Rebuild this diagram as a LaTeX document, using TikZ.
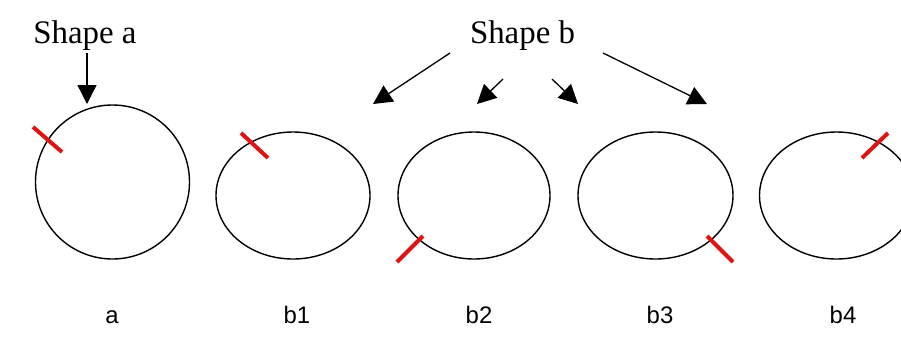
\documentclass[tikz,border=0pt]{standalone}
\usepackage{fontspec}
\setmainfont{Liberation Serif}
\newfontfamily\lblfont{Liberation Sans}
\usetikzlibrary{shapes.geometric,arrows.meta}
\begin{document}
\begin{tikzpicture}[x=1bp,y=-1bp,
  ring/.style={draw=black,line width=1.4bp,ellipse,inner sep=0pt,minimum width=#1},
  tick/.style={draw={rgb,255:red,222;green,20;blue,20},line width=4bp},
  pointer/.style={draw=black,line width=1.3bp,-{Triangle[length=19bp,width=19bp]}},
  title/.style={font=\fontsize{33}{36}\selectfont,anchor=base,inner sep=0pt},
  lbl/.style={font=\lblfont\fontsize{24}{26}\selectfont,anchor=base,inner sep=0pt}]
\useasboundingbox (0,0) rectangle (901,360);
\begin{scope}
\clip (0,0) rectangle (901,360);
% circles
\node[ring=154bp,minimum height=154bp] (ca) at (112.5,182) {};
\node[ring=154bp,minimum height=127bp] (cb1) at (293,195.5) {};
\node[ring=152bp,minimum height=127bp] (cb2) at (474,195.5) {};
\node[ring=155bp,minimum height=127bp] (cb3) at (655.5,195.5) {};
\node[ring=154bp,minimum height=127bp] (cb4) at (836.5,195.5) {};
% red ticks
\draw[tick] (33,127) -- (62,152);
\draw[tick] (241,133) -- (268,158);
\draw[tick] (397,262) -- (423,236);
\draw[tick] (707,236) -- (733,262);
\draw[tick] (862,158) -- (888,133);
\end{scope}
% titles
\node[title] (sa) at (85,43) {Shape a};
\node[title] (sb) at (522.5,43) {Shape b};
% arrows
\coordinate (sa0) at (87,53);
\coordinate (sa1) at (87,104);
\coordinate (b10) at (450,53);
\coordinate (b11) at (373,104);
\coordinate (b20) at (503,79);
\coordinate (b21) at (477,104);
\coordinate (b30) at (552,79);
\coordinate (b31) at (578,104);
\coordinate (b40) at (603,53);
\coordinate (b41) at (707,104);
\draw[pointer] (sa0) -- (sa1);
\draw[pointer] (b10) -- (b11);
\draw[pointer] (b20) -- (b21);
\draw[pointer] (b30) -- (b31);
\draw[pointer] (b40) -- (b41);
% labels
\node[lbl] (la) at (112,323) {a};
\node[lbl] (lb1) at (297,323) {b1};
\node[lbl] (lb2) at (479,323) {b2};
\node[lbl] (lb3) at (660,323) {b3};
\node[lbl] (lb4) at (843,323) {b4};
\end{tikzpicture}
\end{document}
